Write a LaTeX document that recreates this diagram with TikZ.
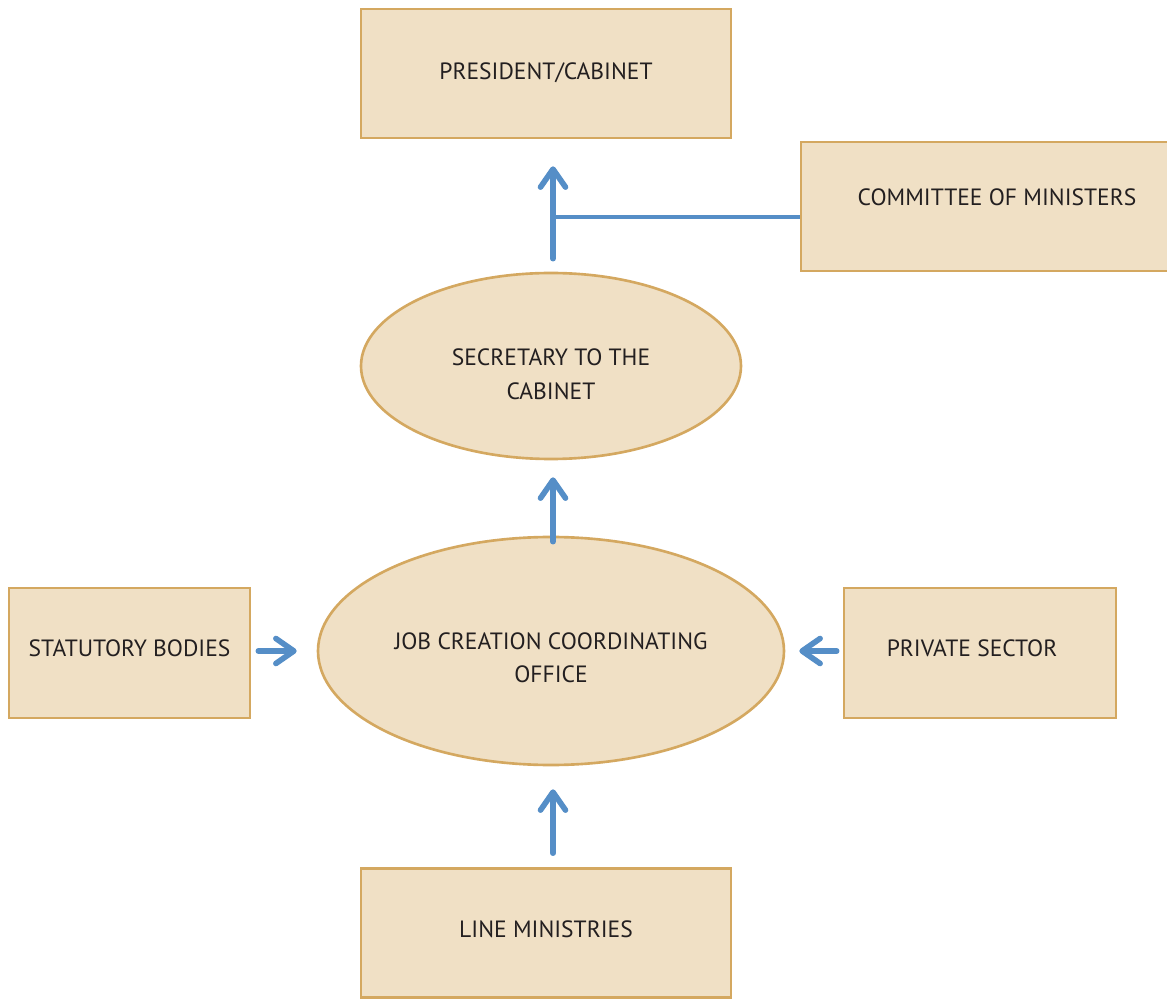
\documentclass[tikz,border=0pt]{standalone}
\usepackage{fontspec}
\setmainfont{PT Sans}
\usetikzlibrary{shapes.geometric, arrows.meta, positioning, calc}
\definecolor{boxfill}{RGB}{240, 224, 197}
\definecolor{boxedge}{RGB}{212, 168, 96}
\definecolor{flowblue}{RGB}{85, 142, 199}
\definecolor{inkdark}{RGB}{35, 31, 32}
\tikzset{
  orgbox/.style={rectangle, draw=boxedge, fill=boxfill, line width=1.5pt, text=inkdark, align=center, font=\fontsize{13.4}{19}\selectfont, inner sep=0pt},
  orgoval/.style={ellipse, draw=boxedge, fill=boxfill, line width=1.5pt, text=inkdark, align=center, font=\fontsize{13.4}{19}\selectfont, inner sep=0pt},
  flowarrow/.style={-{Straight Barb[length=3.6mm, width=5mm, round]}, line width=3.2pt, line cap=round, flowblue},
  joinline/.style={line width=2pt, flowblue}
}

\begin{document}
\begin{tikzpicture}
    \useasboundingbox (0, 0) rectangle (23.34, 19.96);

    % top of the chain
    \node[orgbox, minimum width=7.4cm, minimum height=2.58cm, text depth=0.08cm] (pres) at (10.92, 18.49) {PRESIDENT/CABINET};
    \node[orgbox, minimum width=7.84cm, minimum height=2.58cm, text depth=0.38cm] (comm) at (19.94, 15.83) {COMMITTEE OF MINISTERS};
    \node[orgoval, minimum width=7.6cm, minimum height=3.72cm, text height=1.34cm] (secr) at (11.02, 12.64) {SECRETARY TO THE\\CABINET};

    % coordinating office and its inputs
    \node[orgoval, minimum width=9.32cm, minimum height=4.56cm, text height=1.28cm] (jcco) at (11.02, 6.94) {JOB CREATION COORDINATING\\OFFICE};
    \node[orgbox, minimum width=4.82cm, minimum height=2.6cm, text depth=0.2cm] (stat) at (2.59, 6.90) {STATUTORY BODIES};
    \node[orgbox, minimum width=5.44cm, minimum height=2.6cm, text depth=0.2cm] (priv) at (19.6, 6.90) {PRIVATE SECTOR\hspace*{0.32cm}};
    \node[orgbox, minimum width=7.4cm, minimum height=2.58cm, text depth=0.16cm] (line) at (10.92, 1.3) {LINE MINISTRIES};

    % arrows
    \draw[flowarrow, shorten <=0.26cm, shorten >=0.54cm] (secr.north -| 11.06, 0) -- (pres.south -| 11.06, 0);
    \coordinate (junc) at (11.06, 15.62);
    \draw[joinline] (junc) -- (junc -| comm.west);
    \draw[flowarrow, shorten <=-0.12cm, shorten >=0.34cm] (jcco.north -| 11.06, 0) -- (secr.south -| 11.06, 0);
    \draw[flowarrow, shorten <=0.14cm, shorten >=0.4cm] (stat.east |- jcco.west) -- (jcco.west);
    \draw[flowarrow, shorten <=0.12cm, shorten >=0.28cm] (priv.west |- jcco.east) -- (jcco.east);
    \draw[flowarrow, shorten <=0.28cm, shorten >=0.46cm] (line.north -| 11.06, 0) -- (jcco.south -| 11.06, 0);
\end{tikzpicture}
\end{document}
